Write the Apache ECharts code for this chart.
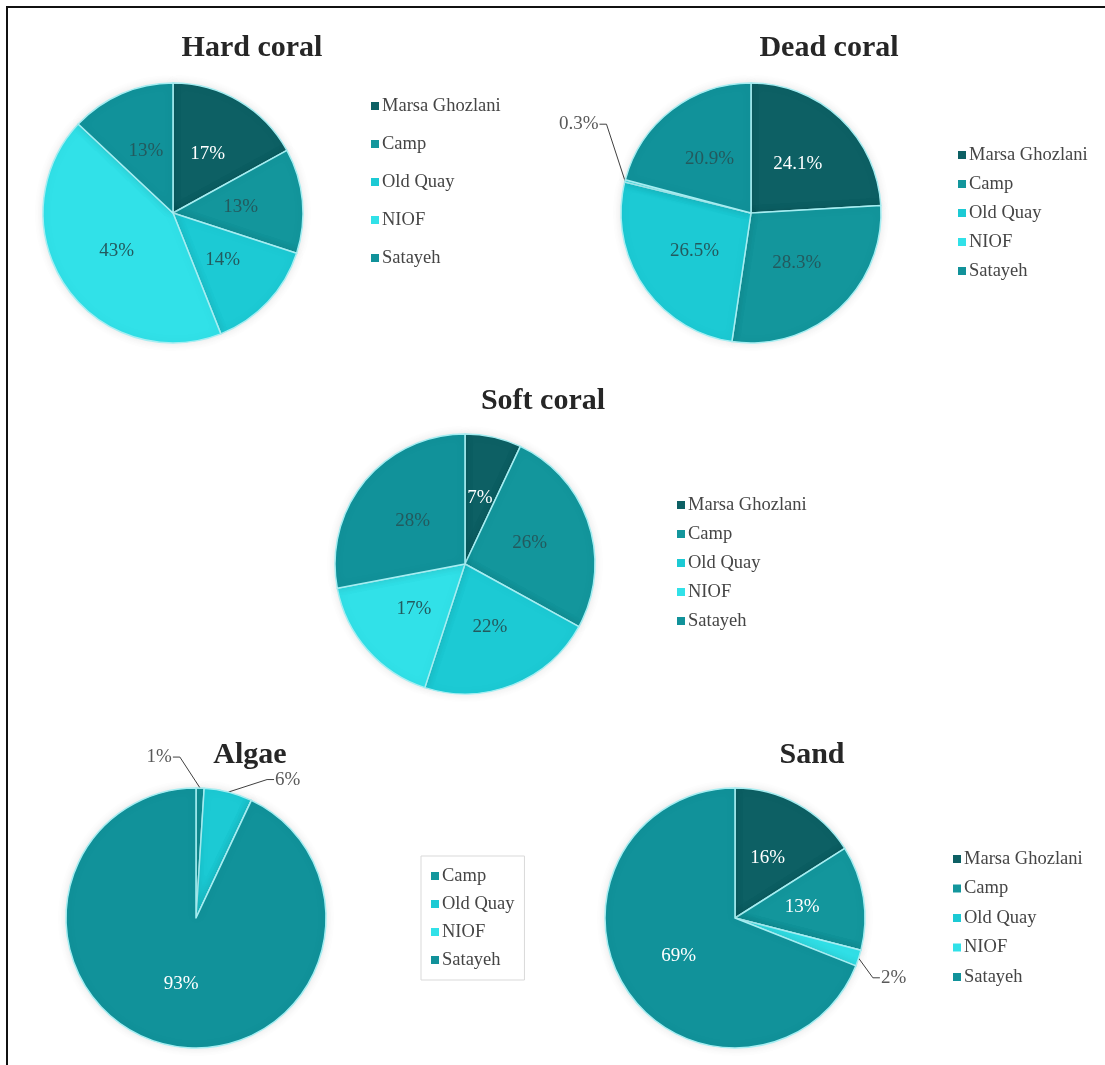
<!DOCTYPE html>
<html>
<head>
<meta charset="utf-8">
<title>Benthic cover by site</title>
<script src="https://cdn.jsdelivr.net/npm/echarts@6/dist/echarts.min.js"></script>
<style>
  html, body { margin: 0; padding: 0; background: #ffffff; }
  #chart { position: absolute; left: 0; top: 0; width: 1105px; height: 1065px; }
  #frame {
    position: absolute; left: 6px; top: 6px; right: 0; bottom: 0;
    border-top: 2px solid #111; border-left: 2px solid #111;
    pointer-events: none;
  }
</style>
</head>
<body>
<div id="chart"></div>
<div id="frame"></div>
<script>
// Survey sites (legend order)
const sites = ['Marsa Ghozlani', 'Camp', 'Old Quay', 'NIOF', 'Satayeh'];
const algaeSites = ['Camp', 'Old Quay', 'NIOF', 'Satayeh'];

// Share of each cover type per site (%)
const hardCoral = [17, 13, 14, 43, 13];
const deadCoral = [24.1, 28.3, 26.5, 0.3, 20.9];
const softCoral = [7, 26, 22, 17, 28];
const algae = [1, 6, 0, 93];
const sand = [16, 13, 0, 2, 69];

const siteColors = {
  'Marsa Ghozlani': '#0d6064',
  'Camp': '#13969c',
  'Old Quay': '#1ccad4',
  'NIOF': '#31e1e8',
  'Satayeh': '#11929a'
};

const FONT = "'Liberation Serif', 'Times New Roman', serif";
const DARK_LABEL = '#235a5e';
const CALLOUT = '#595959';

// One panel per cover type: where its pie, title and legend sit
const panels = [
  { title: 'Hard coral', names: sites, values: hardCoral,
    center: [173, 213], titleAt: [252, 33],
    legendAt: [371, 96], legendGap: 18, light: ['Marsa Ghozlani'] },
  { title: 'Dead coral', names: sites, values: deadCoral,
    center: [751, 213], titleAt: [829, 33],
    legendAt: [958, 145], legendGap: 9, light: ['Marsa Ghozlani'],
    callouts: { 3: [8, -53] } },
  { title: 'Soft coral', names: sites, values: softCoral,
    center: [465, 564], titleAt: [543, 386],
    legendAt: [677, 495], legendGap: 9, light: ['Marsa Ghozlani'] },
  { title: 'Algae', names: algaeSites, values: algae,
    center: [196, 918], titleAt: [250, 740],
    legendAt: [421, 856], legendGap: 8, light: ['Satayeh'], boxed: true,
    callouts: { 0: [-74, -16], 1: [23, 2] } },
  { title: 'Sand', names: sites, values: sand,
    center: [735, 918], titleAt: [812, 740],
    legendAt: [953, 849], legendGap: 9.5, light: ['Marsa Ghozlani', 'Camp', 'Satayeh'],
    callouts: { 3: [-12, 15] } }
];

function sliceData(p) {
  return p.names.map((name, i) => {
    const v = p.values[i];
    const item = { name: name, value: v, itemStyle: { color: siteColors[name] } };
    if (v === 0) {
      item.label = { show: false };
      item.labelLine = { show: false };
    } else if (v < 7) {
      item.label = { position: 'outside', color: CALLOUT };
      item.labelLine = { show: true };
    } else {
      item.label = { position: 'inside', color: p.light.includes(name) ? '#ffffff' : DARK_LABEL };
    }
    return item;
  });
}

// Move small-slice callouts and redraw their leader lines to the new spot
function calloutLayout(p) {
  return function (params) {
    const shift = p.callouts && p.callouts[params.dataIndex];
    if (!shift || !params.labelLinePoints) return {};
    const dx = shift[0], dy = shift[1];
    const rect = params.labelRect;
    const start = params.labelLinePoints[0];
    const left = rect.x + dx, right = left + rect.width;
    const midY = rect.y + dy + rect.height / 2;
    const toLeft = (left + right) / 2 < start[0];
    const endX = toLeft ? right + 1 : left - 1;
    const elbowX = toLeft ? endX + 7 : endX - 7;
    return { dx: dx, dy: dy, labelLinePoints: [start, [elbowX, midY], [endX, midY]] };
  };
}

const chart = echarts.init(document.getElementById('chart'), null, { renderer: 'canvas' });

chart.setOption({
  backgroundColor: '#ffffff',
  animation: false,
  title: panels.map(p => ({
    text: p.title,
    left: p.titleAt[0],
    top: p.titleAt[1],
    textAlign: 'center',
    padding: 0,
    textStyle: { fontFamily: FONT, fontSize: 30, fontWeight: 'bold', color: '#262626' }
  })),
  legend: panels.map(p => ({
    data: p.names,
    orient: 'vertical',
    left: p.legendAt[0],
    top: p.legendAt[1],
    icon: 'rect',
    itemWidth: 8,
    itemHeight: 8,
    itemGap: p.legendGap,
    padding: p.boxed ? [10, 10, 10, 10] : 0,
    borderColor: p.boxed ? '#d9d9d9' : 'transparent',
    borderWidth: p.boxed ? 1 : 0,
    selectedMode: false,
    itemStyle: { borderWidth: 0, shadowBlur: 0 },
    textStyle: { fontFamily: FONT, fontSize: 18.5, color: '#454545', lineHeight: 20, padding: [0, 0, 0, -2] }
  })),
  series: panels.map(p => ({
    type: 'pie',
    name: p.title,
    center: p.center,
    radius: 130,
    startAngle: 90,
    clockwise: true,
    avoidLabelOverlap: false,
    silent: true,
    itemStyle: {
      borderColor: '#a6eef2',
      borderWidth: 1.5,
      shadowBlur: 10,
      shadowColor: 'rgba(0, 0, 0, 0.10)'
    },
    label: {
      show: true,
      formatter: '{c}%',
      fontFamily: FONT,
      fontSize: 19
    },
    labelLine: {
      length: 15,
      length2: 15,
      smooth: false,
      lineStyle: { color: '#404040', width: 1 }
    },
    labelLayout: calloutLayout(p),
    data: sliceData(p)
  }))
});
</script>
</body>
</html>
